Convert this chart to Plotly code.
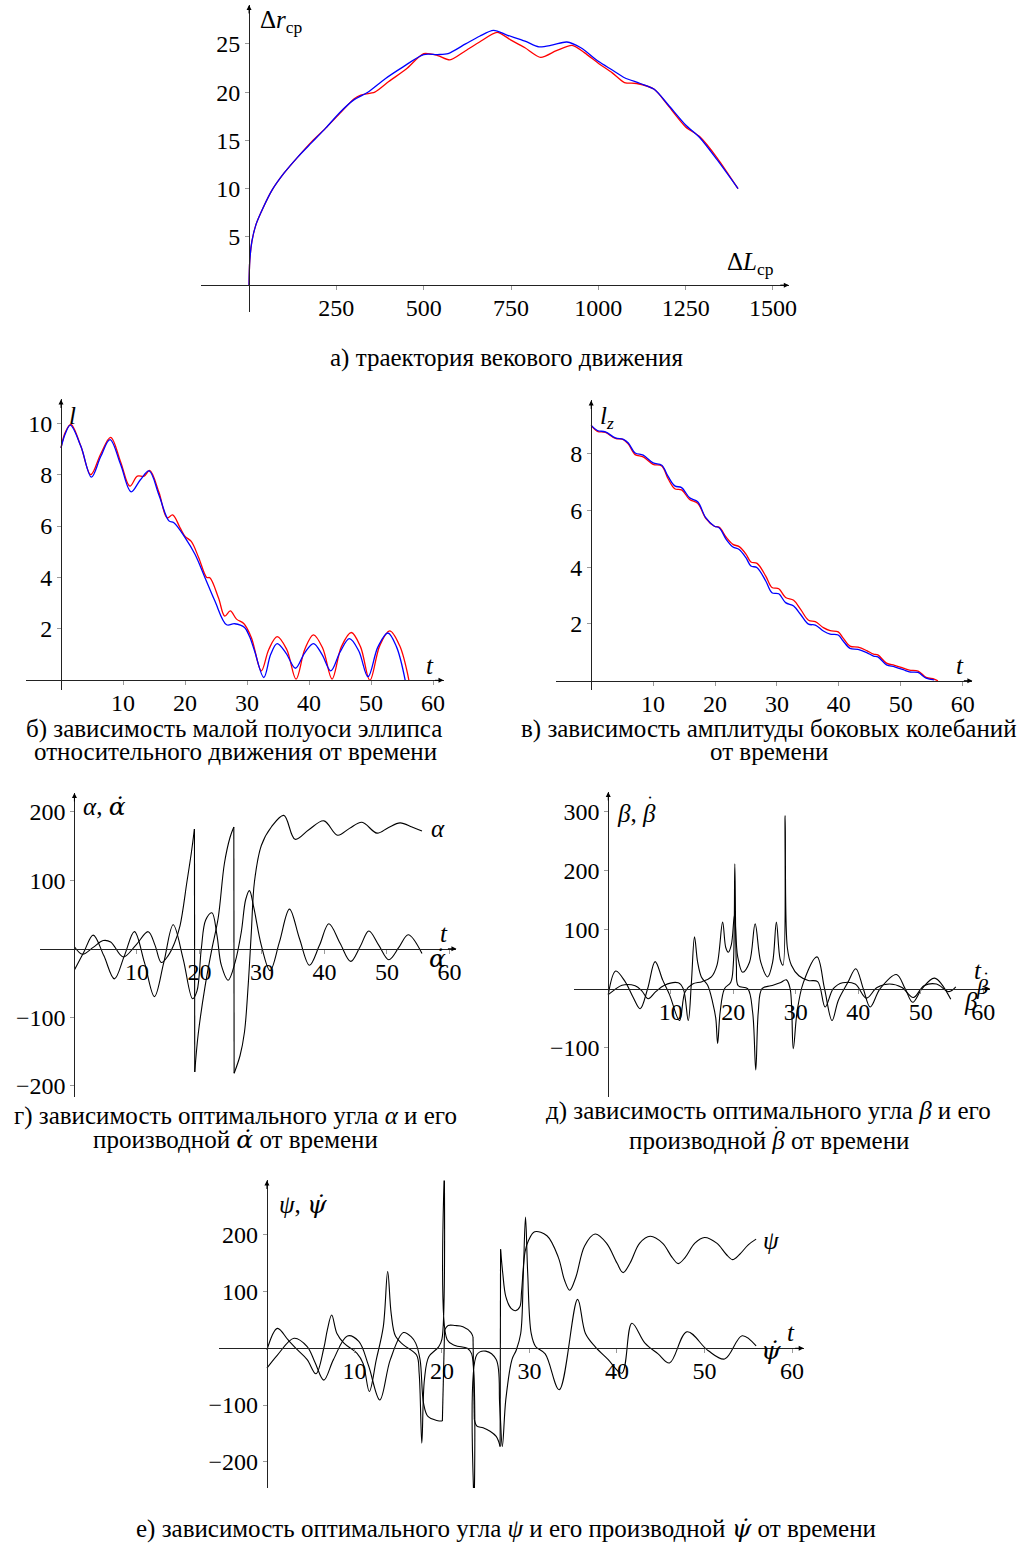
import plotly.graph_objects as go

W, H = 1030, 1544
FONT = "Liberation Serif"
FS = 24      # tick labels
FSC = 25     # captions / labels

# ---------------- DATA ----------------
# (а) trajectory of secular motion
a_L_blue = [0, 2, 8, 20, 40, 65, 100, 140, 180, 220, 260, 300, 340, 390, 440, 500, 540, 570, 620, 660,
            700, 740, 790, 830, 870, 910, 950, 1000, 1040, 1075, 1120, 1160, 1200, 1250, 1290, 1340, 1400]
a_r_blue = [0, 2.5, 4.5, 6.3, 8.0, 9.8, 11.6, 13.3, 14.8, 16.3, 17.9, 19.2, 20.0, 21.4, 22.6, 23.9, 23.9, 24.0, 25.0, 25.8,
            26.4, 25.9, 25.3, 24.7, 24.9, 25.2, 24.6, 23.2, 22.3, 21.5, 20.9, 20.3, 18.7, 16.6, 15.3, 13.0, 10.0]
a_L_red = [0, 2, 8, 20, 40, 65, 100, 140, 180, 220, 260, 300, 320, 360, 400, 450, 500, 540, 575, 620,
           660, 710, 750, 790, 835, 880, 925, 960, 1000, 1040, 1075, 1110, 1160, 1200, 1250, 1290, 1340, 1400]
a_r_red = [0, 2.5, 4.5, 6.3, 8.0, 9.8, 11.6, 13.3, 14.9, 16.3, 17.8, 19.3, 19.7, 20.0, 21.1, 22.4, 24.0, 23.8, 23.35, 24.3,
           25.2, 26.2, 25.4, 24.6, 23.6, 24.3, 24.85, 24.1, 23.0, 22.0, 21.0, 20.9, 20.3, 18.6, 16.4, 15.4, 13.2, 10.0]
a_xticks = [250, 500, 750, 1000, 1250, 1500]
a_yticks = [5, 10, 15, 20, 25]

# (б) semi-minor axis l(t)
b_t_blue = [0, 0.7, 1.5, 3.2, 4.9, 6.4, 7.9, 9.6, 11.3, 12.8, 14.2, 15.8, 17.4, 18.2, 20.0, 21.6, 23.2, 24.8, 26.7, 28.0,
            29.6, 30.4, 31.2, 32.7, 33.8, 34.85, 36.3, 37.8, 39.25, 40.7, 42.1, 43.5, 45.0, 46.5, 48.0, 49.5, 51.1, 52.7, 54.1, 55.5]
b_l_blue = [9.04, 9.6, 9.92, 9.1, 7.90, 8.7, 9.36, 8.4, 7.33, 7.8, 8.14, 7.2, 6.2, 6.13, 5.55, 4.9, 4.0, 3.09, 2.16, 2.2,
            2.05, 1.7, 1.15, 0.11, 1.0, 1.43, 1.05, 0.47, 1.05, 1.43, 1.0, 0.37, 1.1, 1.62, 1.15, 0.14, 1.3, 1.84, 1.3, 0.0]
b_t_red = [0, 0.7, 1.6, 3.2, 4.8, 6.4, 8.0, 9.6, 11.1, 12.3, 13.4, 14.3, 15.8, 17.1, 18.0, 19.2, 20.0, 21.0, 22.2, 23.5,
           24.0, 25.4, 26.4, 27.3, 28.3, 29.5, 30.7, 32.3, 33.5, 34.85, 36.4, 37.9, 39.3, 40.7, 42.2, 43.7, 45.2, 46.8, 48.3, 49.8,
           51.4, 53.0, 54.6, 56.1]
b_l_red = [9.04, 9.65, 9.95, 9.1, 8.0, 8.8, 9.45, 8.5, 7.55, 7.94, 7.94, 8.16, 7.3, 6.32, 6.43, 5.93, 5.6, 5.4, 4.77, 4.0,
           3.99, 3.2, 2.5, 2.7, 2.38, 2.2, 1.66, 0.37, 1.2, 1.70, 1.2, 0.05, 1.2, 1.77, 1.25, 0.05, 1.3, 1.86, 1.3, 0.0,
           1.35, 1.92, 1.35, 0.0]
b_xticks = [10, 20, 30, 40, 50, 60]
b_yticks = [2, 4, 6, 8, 10]

# (в) lateral oscillation amplitude l_z(t)
c_t_blue = [0, 1, 2.3, 3.9, 5.2, 6, 7.1, 8.4, 10, 11.4, 12.4, 13.5, 14.6, 15.9, 17.2, 18.5, 19.9, 20.7, 21.8, 22.9,
            23.9, 25, 25.8, 26.8, 28.2, 29.2, 30.3, 31.4, 32.7, 33.8, 35.1, 36.2, 37.5, 38.6, 39.9, 40.7, 41.8, 43.1, 44.5, 45.6,
            46.3, 47.7, 49, 50.4, 51.4, 52.8, 54.1, 55.4]
c_l_blue = [8.99, 8.81, 8.76, 8.55, 8.5, 8.37, 8.02, 7.94, 7.67, 7.59, 7.2, 6.86, 6.8, 6.44, 6.3, 5.74, 5.44, 5.38, 4.98, 4.71,
            4.62, 4.33, 4.04, 3.98, 3.51, 3.1, 3.06, 2.75, 2.63, 2.34, 1.99, 1.96, 1.75, 1.64, 1.61, 1.4, 1.14, 1.1, 0.99, 0.87,
            0.84, 0.56, 0.49, 0.39, 0.31, 0.29, 0.09, 0.03]
c_t_red = [0, 1, 2.3, 3.9, 5.2, 6, 7.1, 8.4, 10, 11.4, 12.4, 13.5, 14.6, 15.9, 17.2, 18.5, 19.9, 20.7, 21.8, 22.9,
           23.9, 25, 25.8, 26.8, 28.2, 29.2, 30.3, 31.4, 32.7, 33.8, 35.1, 36.2, 37.5, 38.6, 39.9, 40.7, 41.8, 43.1, 44.5, 45.6,
           46.3, 47.7, 49, 50.4, 51.4, 52.8, 54.1, 55.4, 56.0]
c_l_red = [8.99, 8.78, 8.74, 8.53, 8.49, 8.33, 7.96, 7.88, 7.62, 7.56, 7.12, 6.76, 6.72, 6.38, 6.25, 5.72, 5.44, 5.40, 5.05, 4.80,
           4.72, 4.46, 4.18, 4.13, 3.68, 3.28, 3.24, 2.93, 2.83, 2.52, 2.13, 2.08, 1.87, 1.76, 1.72, 1.50, 1.22, 1.18, 1.06, 0.94,
           0.91, 0.62, 0.54, 0.44, 0.37, 0.34, 0.12, 0.06, 0.0]
c_xticks = [10, 20, 30, 40, 50, 60]
c_yticks = [2, 4, 6, 8]

# (г) optimal angle alpha (None = angle wrap) and its derivative
g_t_alpha = [0, 1.3, 3.0, 4.6, 5.8, 7.8, 9.8, 11.8, 12.9, 13.9, 15.0, 16.0, 16.9, 18.0, 18.7, 19.2, None,
             19.25, 19.8, 20.9, 22.0, 23.0, 24.0, 24.9, 25.5, None,
             25.55, 26.5, 27.2, 27.8, 28.3, 28.8, 29.9, 31.5, 33.5, 35.3, 37.5, 39.9, 42.1, 44.0, 46.0, 48.4, 50.2, 52.1, 54.0, 55.6]
g_v_alpha = [3, -8, 2, 12, 10, -12, 5, 25, 5, -20, -10, 8, 34, 98, 140, 175, None,
             -180, -125, -55, 0, 45, 125, 163, 178, None,
             -182, -156, -122, -53, 24, 98, 151, 178, 195, 160, 174, 187, 166, 176, 185, 169, 177, 184, 178, 172]
g_t_dalpha = [0, 1.5, 3.0, 4.7, 6.4, 8.0, 9.6, 11.2, 12.8, 14.3, 15.8, 17.4, 18.9, 19.6, 20.3, 21.0, 22.0, 22.8, 23.5, 24.6,
              25.7, 26.7, 27.4, 28.0, 28.7, 29.9, 31.3, 32.8, 34.4, 36.0, 37.6, 39.2, 40.7, 42.5, 44.2, 45.7, 47.1, 48.7, 50.3, 51.9,
              53.4, 55.6]
g_v_dalpha = [-31, -5, 20, -10, -44, -10, 25, -20, -70, -20, 35, -15, -73, -62, 0, 42, 52.6, 20, -24, -46,
              -20, 24.6, 72, 85, 60, 5, -32, 10, 58, 15, -24, 5, 36.5, 8, -18.5, 3, 26, 5, -16, 2,
              20.4, -7]
g_xticks = [10, 20, 30, 40, 50, 60]
g_yticks = [-200, -100, 100, 200]

# (д) optimal angle beta and its derivative
d_t_1 = [0, 1.2, 2.7, 4.0, 5.1, 6.3, 7.5, 8.7, 9.8, 11.4, 12.3, 13.5, 15.0, 16.5, 17.4, 18.3, 18.8, 19.2, 19.7, 20.2,
         20.7, 21.5, 22.6, 23.5, 24.4, 25.5, 26.3, 26.9, 27.5, 27.95, 28.3, 28.65, 29.3, 30.5, 32.0, 33.5, 34.7, 36.0, 37.5, 39.5,
         41.3, 43.0, 45.0, 47.0, 48.8, 50.5, 52.5, 54.5, 55.6]
d_v_1 = [-10, 30, 12, -15, -34, 0, 46, 15, -10, -54, -5, 8, 12, 20, 40, 113, 70, 62, 75, 125,
         55, 28, 45, 110, 45, 20, 45, 113, 50, 40, 294, 70, 40, 22, 14, 12, -31, 0, 10, 8,
         -16, 2, 8, 2, -15, 5, 8, -5, 3]
d_t_2 = [0, 1.0, 2.2, 4.3, 5.4, 6.4, 7.6, 9.0, 11.2, 12.0, 12.8, 13.3, 13.8, 14.3, 14.9, 15.9, 16.7, 17.2, 17.5, 17.9,
         18.6, 19.6, 20.0, 20.25, 20.5, 20.8, 22.3, 23.1, 23.6, 24.0, 24.6, 26.0, 27.5, 28.5, 29.1, 29.6, 30.2, 31.2, 33.4, 34.6,
         35.8, 36.8, 38.3, 39.6, 40.8, 41.9, 43.5, 46.1, 47.5, 48.7, 50.2, 52.2, 54.8]
d_v_2 = [-10, -2, 6, 5, -4, -17, -5, 6, 10, 0, -54, 10, 88, 45, 20, 6, -23, -50, -93, -40,
         0, 11, 40, 212, 40, 5, 0, -40, -138, -40, 0, 5, 10, 15, 0, -102, -40, 10, 54, 0,
         -54, -20, 10, 34, 0, -31, 0, 24, 0, -23, 0, 18, -18]
d_xticks = [10, 20, 30, 40, 50, 60]
d_yticks = [-100, 100, 200, 300]

# (е) optimal angle psi (None = jump) and its derivative
e_t_psi = [0, 1.2, 3.1, 4.6, 5.5, 6.5, 7.6, 9.2, 10.5, 11.6, 12.9, 14.1, 15.6, 16.5, 17.0, 17.5, 17.9, 18.4, 19.4, 20.05, None,
           20.3, 20.7, 21.5, 22.4, 23.3, 23.55, None,
           23.7, 24.0, 24.7, 25.5, 26.2, 26.5, 26.65, None,
           26.7, 26.95, 27.3, 27.9, 28.4, 28.9, 29.1, 29.5, 29.9, 30.6, 32.0, 33.3, 34.0, 34.6, 35.3, 36.3, 37.5, 38.8, 40.0, 40.7,
           41.5, 42.6, 43.8, 45.2, 46.3, 47.0, 47.8, 48.9, 50.0, 51.4, 52.5, 53.2, 54.0, 55.0, 55.9]
e_v_psi = [-35, -12, 17.6, 3, -25, -56, -20, 21.7, 12, -30, -91, -20, 27.6, 20, 9, -20, -97, -120, -127, -128, None,
           32, 40, 40, 38, 28, 20, None,
           -125, -137, -140, -146, -155, -165, -173, None,
           174, 132, 91, 70, 66, 73, 100, 170, 190, 205, 198, 160, 120, 102, 125, 180, 201, 185, 150, 133,
           150, 185, 197, 185, 160, 149, 160, 185, 195, 185, 165, 156, 165, 182, 192]
e_t_dpsi = [0, 1.2, 2.4, 3.5, 4.6, 5.6, 6.5, 6.9, 7.4, 8.0, 8.8, 10.3, 11.0, 11.7, 12.5, 13.3, 13.8, 14.2, 14.7, 15.6,
            17.1, 17.4, 17.7, 18.0, 18.5, 19.6, 20.0, 20.3, 20.6, 21.5, 22.9, 23.4, 23.7, 24.0, 25.0, 26.2, 26.6, 26.9, 27.3, 28.0,
            28.5, 29.0, 29.3, 29.55, 29.8, 30.2, 30.7, 31.8, 33.4, 35.5, 36.4, 37.5, 39.0, 40.55, 41.7, 43.2, 44.7, 46.0, 48.0, 50.4,
            52.3, 54.3, 55.9]
e_v_dpsi = [-3, 35, 15, -3, -20, -45, 0, 32, 58.6, 26, 9, -9, -27, -76, -20, 38, 135, 61, 21, 6,
            -12, -45, -167, -55, -15, 2, 16, 340, 15, 5, 0, -10, -300, -11, -5, -20, -100, -173, -90, -20,
            -3, 26, 132, 231, 132, 26, 3, -10, -73, 86, 26, 3, -20, -44, 44, 9, -10, -26, 29, -4,
            -19, 22, 4]
e_xticks = [10, 20, 30, 40, 50, 60]
e_yticks = [-200, -100, 100, 200]

# ---------------- LAYOUT HELPERS ----------------
def fx(x):
    return x / W


def fy(y):
    return 1 - y / H


def lab(v):
    return str(v).replace('-', '\u2212')


def dot(ch, font='DejaVu Serif'):
    # letter with a combining dot above, in a font that positions the mark
    return '<span style="font-family:' + font + '">' + ch + '\u0307</span>'


# panel geometry: box (left, right, top, bottom) in px, origin px, px per unit
panels = [
    dict(n='', box=(203, 795, 5, 312), org=(251, 285.5), sc=(0.352, 9.66), xt=a_xticks, yt=a_yticks),
    dict(n='2', box=(26, 447, 400, 691), org=(61.5, 681.2), sc=(6.25, 25.75), xt=b_xticks, yt=b_yticks),
    dict(n='3', box=(560, 980, 401, 691), org=(595.8, 681.6), sc=(6.24, 28.44), xt=c_xticks, yt=c_yticks),
    dict(n='4', box=(40, 460, 794, 1098), org=(75, 950), sc=(6.3, 0.685), xt=g_xticks, yt=g_yticks),
    dict(n='5', box=(578, 998, 793, 1098), org=(613, 990), sc=(6.3, 0.59), xt=d_xticks, yt=d_yticks),
    dict(n='6', box=(221, 810, 1182, 1490), org=(269, 1350), sc=(8.82, 0.569), xt=e_xticks, yt=e_yticks),
]

fig = go.Figure()
layout = dict(width=W, height=H, margin=dict(l=0, r=0, t=0, b=0), paper_bgcolor='white',
              plot_bgcolor='rgba(0,0,0,0)', showlegend=False,
              font=dict(family=FONT, size=FS, color='black'))
annotations = []
AXC = '#222222'
for p in panels:
    L, R, T, B = p['box']
    ox, oy = p['org']
    sx, sy = p['sc']
    xr = [(L - ox) / sx, (R - ox) / sx]
    yr = [(oy - B) / sy, (oy - T) / sy]
    layout['xaxis' + p['n']] = dict(
        domain=[fx(L), fx(R)], range=xr, anchor='free', position=fy(oy),
        showline=True, linecolor=AXC, linewidth=1, showgrid=False, zeroline=False,
        ticks='outside', ticklen=4, tickcolor='#999999', tickwidth=1, ticklabelstandoff=-3,
        tickvals=p['xt'], ticktext=[lab(v) for v in p['xt']],
        tickfont=dict(family=FONT, size=FS, color='black'), fixedrange=True)
    layout['yaxis' + p['n']] = dict(
        domain=[fy(B), fy(T)], range=yr, anchor='free', position=fx(ox),
        showline=True, linecolor=AXC, linewidth=1, showgrid=False, zeroline=False,
        ticks='outside', ticklen=4, tickcolor='#999999', tickwidth=1,
        tickvals=p['yt'], ticktext=[lab(v) for v in p['yt']],
        tickfont=dict(family=FONT, size=FS, color='black'), fixedrange=True)
    # arrow heads
    annotations.append(dict(x=fx(R), y=fy(oy), xref='paper', yref='paper', text='', showarrow=True,
                            ax=-10, ay=0, arrowhead=2, arrowsize=1, arrowwidth=1, arrowcolor='black', standoff=0))
    annotations.append(dict(x=fx(ox), y=fy(T), xref='paper', yref='paper', text='', showarrow=True,
                            ax=0, ay=10, arrowhead=2, arrowsize=1, arrowwidth=1, arrowcolor='black', standoff=0))


def add(x, y, n, color, width=1.2, smooth=1.0):
    fig.add_trace(go.Scatter(x=x, y=y, mode='lines', xaxis='x' + n, yaxis='y' + n,
                             line=dict(color=color, width=width, shape='spline', smoothing=smooth),
                             connectgaps=False, hoverinfo='skip'))


def add_jumps(t, v, n, color, width=1.1):
    xs, ys = [], []
    for i, val in enumerate(t):
        if val is None:
            xs += [t[i - 1], t[i + 1], None]
            ys += [v[i - 1], v[i + 1], None]
    fig.add_trace(go.Scatter(x=xs, y=ys, mode='lines', xaxis='x' + n, yaxis='y' + n,
                             line=dict(color=color, width=width), hoverinfo='skip'))


RED, BLUE, BLK = '#ff0000', '#0000ff', '#000000'
add(a_L_red, a_r_red, '', RED, 1.3, 0.7)
add(a_L_blue, a_r_blue, '', BLUE, 1.3, 0.8)
add(b_t_red, b_l_red, '2', RED, 1.3)
add(b_t_blue, b_l_blue, '2', BLUE, 1.3)
add(c_t_red, c_l_red, '3', RED, 1.3)
add(c_t_blue, c_l_blue, '3', BLUE, 1.3)
add(g_t_alpha, g_v_alpha, '4', BLK, 1.1)
add_jumps(g_t_alpha, g_v_alpha, '4', BLK)
add(g_t_dalpha, g_v_dalpha, '4', BLK, 1.1)
add(d_t_1, d_v_1, '5', BLK, 1.1)
add(d_t_2, d_v_2, '5', BLK, 1.1)
add(e_t_psi, e_v_psi, '6', BLK, 1.1)
add_jumps(e_t_psi, e_v_psi, '6', BLK)
add(e_t_dpsi, e_v_dpsi, '6', BLK, 1.1)


def txt(x, y, s, size=FSC, xanchor='center'):
    annotations.append(dict(x=fx(x), y=fy(y), xref='paper', yref='paper', text=s, showarrow=False,
                            xanchor=xanchor, yanchor='middle', font=dict(family=FONT, size=size, color='black')))


def overdot(x, y):
    # dot accent placed over a glyph (for β, whose font cannot attach a combining dot)
    annotations.append(dict(x=fx(x), y=fy(y), xref='paper', yref='paper', text='•', showarrow=False,
                            xanchor='center', yanchor='middle', font=dict(family='DejaVu Sans', size=7, color='black')))


# axis labels
txt(260, 22, 'Δ<i>r</i><sub>ср</sub>', xanchor='left')
txt(731, 264, 'Δ<i>L</i><sub>ср</sub>', xanchor='left')
txt(68, 416, '<i>l</i>', xanchor='left')
txt(433, 666, '<i>t</i>')
txt(603, 418, '<i>l<sub>z</sub></i>', xanchor='left')
txt(968, 666, '<i>t</i>')
txt(82, 808, '<i>α</i>, <i>' + dot('α') + '</i>', xanchor='left')
txt(447, 935, '<i>t</i>')
txt(441, 830, '<i>α</i>')
txt(441, 960, '<i>' + dot('α') + '</i>')
txt(620, 815, '<i>β</i>, <i>β</i>', xanchor='left')
overdot(655, 799)
txt(986, 972, '<i>t</i>')
txt(990, 988, '<i>β</i>', size=22)
overdot(994, 975)
txt(979, 1003, '<i>β</i>')
txt(279, 1206, '<i>ψ</i>, <i>' + dot('ψ') + '</i>', xanchor='left')
txt(797, 1334, '<i>t</i>')
txt(777, 1242, '<i>ψ</i>')
txt(777, 1352, '<i>' + dot('ψ') + '</i>')

# captions
txt(510, 358, 'а) траектория векового движения')
txt(236, 730, 'б) зависимость малой полуоси эллипса')
txt(237, 752, 'относительного движения от времени')
txt(775, 730, 'в) зависимость амплитуды боковых колебаний')
txt(775, 752, 'от времени')
txt(237, 1117, 'г) зависимость оптимального угла <i>α</i> и его')
txt(237, 1141, 'производной <i>' + dot('α') + '</i> от времени')
txt(775, 1112, 'д) зависимость оптимального угла <i>β</i> и его')
txt(775, 1142, 'производной <i>β</i> от времени')
overdot(782, 1129)
txt(510, 1530, 'е) зависимость оптимального угла <i>ψ</i> и его производной <i>' + dot('ψ') + '</i> от времени')

layout['annotations'] = annotations
fig.update_layout(**layout)
fig.write_html('out.html', config={'displayModeBar': False},
               post_script="document.body.style.margin='0';document.body.style.overflow='hidden';")
